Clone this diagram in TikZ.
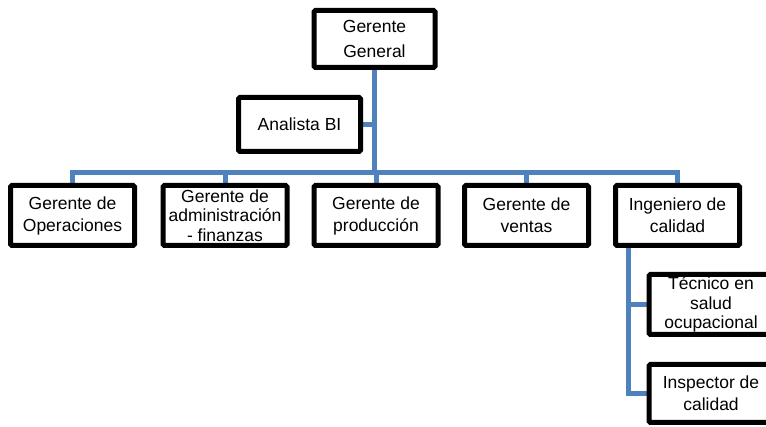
\documentclass[tikz,border=0pt]{standalone}
\usepackage{fontspec}
\setmainfont{Liberation Sans}
\pgfdeclarelayer{background}
\pgfsetlayers{background,main}
\begin{document}
\begin{tikzpicture}[x=1pt,y=-1pt,
  box/.style={draw=black, line width=5pt, fill=white, rounded corners=1.5pt,
    align=center, inner sep=0pt, font=\fontsize{17.5}{22}\selectfont},
  tight/.style={font=\fontsize{17.5}{19.5}\selectfont},
  lvl/.style={box, minimum width=124pt, minimum height=60pt},
  link/.style={draw=linkblue, line width=5pt}]
\definecolor{linkblue}{RGB}{79,129,189}
\useasboundingbox (0,0) rectangle (766,427);

% top of the chart
\node[box, minimum width=121pt, minimum height=57pt, font=\fontsize{17.5}{25.5}\selectfont]
  (gg) at (374.5,39) {Gerente\\General};
\node[box, minimum width=122pt, minimum height=54pt] (bi) at (299.5,124.5) {Analista BI};

% second level
\node[lvl] (op)   at (72.5,215.5)  {Gerente de\\Operaciones};
\node[lvl, tight] (adm) at (225,215.5) {Gerente de\\administración\\- finanzas};
\node[lvl] (prod) at (376,215.5)   {Gerente de\\producción};
\node[lvl] (ven)  at (526.5,215.5) {Gerente de\\ventas};
\node[lvl] (ing)  at (677.5,215.5) {Ingeniero de\\calidad};

% staff under quality
\node[lvl, tight] (tec) at (711,304.5) {Técnico en\\salud\\ocupacional};
\node[lvl, minimum height=58pt] (insp) at (711,393.5) {Inspector de\\calidad};

% connector points
\coordinate (bus) at (375,173);
\coordinate (sub) at (628,250);

\begin{pgfonlayer}{background}
  % trunk and assistant
  \draw[link] (gg.south) -- (gg.south |- bus);
  \draw[link] (bi.east) -- (bi.east -| bus);
  % bus down to the managers
  \foreach \n in {op,adm,prod,ven,ing}
    \draw[link] (bus) -| (\n.north);
  % branch under the quality engineer
  \draw[link] (ing.south -| sub) |- (tec.west);
  \draw[link] (ing.south -| sub) |- (insp.west);
\end{pgfonlayer}
\end{tikzpicture}
\end{document}
